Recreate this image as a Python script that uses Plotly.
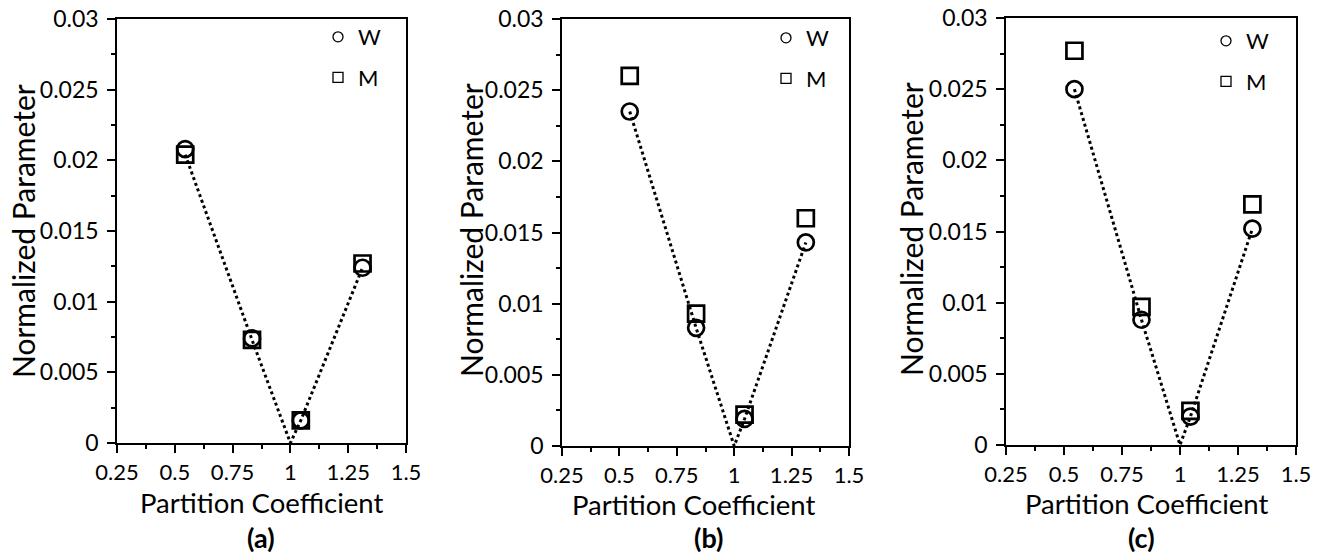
import plotly.graph_objects as go

# ---- data ----
partition = [0.545, 0.834, 1.045, 1.312]
W_a = [0.0208, 0.0074, 0.0016, 0.0124]
M_a = [0.0204, 0.0073, 0.0016, 0.0127]
W_b = [0.0235, 0.0083, 0.0019, 0.0143]
M_b = [0.0260, 0.0093, 0.0022, 0.0160]
W_c = [0.0250, 0.0088, 0.0020, 0.0152]
M_c = [0.0277, 0.0097, 0.0024, 0.0169]
fit_x = [0.545, 0.834, 1.0, 1.045, 1.312]
fit_a = [0.0204, 0.0073, 0.0, 0.0016, 0.0124]
fit_b = [0.0235, 0.0083, 0.0, 0.0019, 0.0143]
fit_c = [0.0250, 0.0088, 0.0, 0.0020, 0.0152]
x_ticks = [0.25, 0.5, 0.75, 1.0, 1.25, 1.5]
x_ticktext = ["0.25", "0.5", "0.75", "1", "1.25", "1.5"]
y_ticks = [0, 0.005, 0.01, 0.015, 0.02, 0.025, 0.03]
y_ticktext = ["0", "0.005", "0.01", "0.015", "0.02", "0.025", "0.03"]
panel_labels = ["(a)", "(b)", "(c)"]
x_title = "Partition Coefficient"
y_title = "Normalized Parameter"

FONT = "Lato"
W_PX, H_PX = 1327, 556
fig = go.Figure()

panels = [(W_a, M_a, fit_a), (W_b, M_b, fit_b), (W_c, M_c, fit_c)]
x_px = [(117, 406), (562, 849), (1006, 1296)]
y_px = [(19, 443), (19, 446), (18, 445)]
legend_px = [(318, 16), (766, 17), (1206, 20)]
label_x_px = [245, 708, 1157]
xtitle_px = [(261, 502), (693, 504), (1146, 503)]
ytitle_px = [(23, 231), (471, 230), (911, 229)]

for i, (W, M, fit) in enumerate(panels):
    xa = "x" if i == 0 else f"x{i+1}"
    ya = "y" if i == 0 else f"y{i+1}"
    lg = "legend" if i == 0 else f"legend{i+1}"
    fig.add_trace(go.Scatter(x=partition, y=M, mode="markers", xaxis=xa, yaxis=ya,
                             marker=dict(symbol="square-open", size=16, color="black",
                                         line=dict(width=2.7, color="black")),
                             showlegend=False, hoverinfo="skip"))
    fig.add_trace(go.Scatter(x=partition, y=W, mode="markers", xaxis=xa, yaxis=ya,
                             marker=dict(symbol="circle-open", size=16, color="black",
                                         line=dict(width=2.7, color="black")),
                             showlegend=False, hoverinfo="skip"))
    fig.add_trace(go.Scatter(x=fit_x, y=fit, mode="lines", xaxis=xa, yaxis=ya,
                             line=dict(color="black", width=3, dash="3px,3px"),
                             showlegend=False, hoverinfo="skip"))
    # legend entries
    fig.add_trace(go.Scatter(x=[None], y=[None], mode="markers", xaxis=xa, yaxis=ya,
                             name="W", legend=lg, legendgroup=f"w{i}",
                             marker=dict(symbol="circle-open", size=10, color="black",
                                         line=dict(width=1.3, color="black"))))
    fig.add_trace(go.Scatter(x=[None], y=[None], mode="markers", xaxis=xa, yaxis=ya,
                             name="M", legend=lg, legendgroup=f"m{i}",
                             marker=dict(symbol="square-open", size=10, color="black",
                                         line=dict(width=1.3, color="black"))))

    axis_common = dict(showline=True, linecolor="black", linewidth=1.5, mirror=True,
                       ticks="outside", ticklen=8, tickwidth=1.5, tickcolor="black",
                       showgrid=False, zeroline=False, automargin=False,
                       ticklabelstandoff=1,
                       tickfont=dict(family=FONT, size=22, color="black"))
    xkey = "xaxis" if i == 0 else f"xaxis{i+1}"
    ykey = "yaxis" if i == 0 else f"yaxis{i+1}"
    fig.update_layout(**{
        xkey: dict(axis_common, domain=[x_px[i][0] / W_PX, x_px[i][1] / W_PX], anchor=ya,
                   range=[0.25, 1.5], tickvals=x_ticks, ticktext=x_ticktext,
                   minor=dict(dtick=0.125, tick0=0.25, ticks="outside", ticklen=4,
                              tickwidth=1.5, tickcolor="black", showgrid=False)),
        ykey: dict(axis_common, domain=[1 - y_px[i][1] / H_PX, 1 - y_px[i][0] / H_PX],
                   anchor=xa, range=[0, 0.03], tickvals=y_ticks, ticktext=y_ticktext,
                   ticklabelstandoff=4, tickfont=dict(family=FONT, size=23, color="black"),
                   minor=dict(dtick=0.0025, tick0=0, ticks="outside", ticklen=4,
                              tickwidth=1.5, tickcolor="black", showgrid=False)),
        lg: dict(x=legend_px[i][0] / W_PX, y=1 - legend_px[i][1] / H_PX,
                 xanchor="left", yanchor="top",
                 bgcolor="rgba(0,0,0,0)", traceorder="grouped", tracegroupgap=9,
                 font=dict(family=FONT, size=22, color="black")),
    })
    fig.add_annotation(x=xtitle_px[i][0] / W_PX, y=1 - xtitle_px[i][1] / H_PX,
                       xref="paper", yref="paper", xanchor="center", yanchor="middle",
                       text=x_title, showarrow=False,
                       font=dict(family=FONT, size=27.5, color="black"))
    fig.add_annotation(x=ytitle_px[i][0] / W_PX, y=1 - ytitle_px[i][1] / H_PX,
                       xref="paper", yref="paper", xanchor="center", yanchor="middle",
                       text=y_title, showarrow=False, textangle=-90,
                       font=dict(family=FONT, size=30, color="black"))
    fig.add_annotation(x=label_x_px[i] / W_PX, y=0,
                       xref="paper", yref="paper", yanchor="bottom",
                       text=f"<b>{panel_labels[i]}</b>", showarrow=False,
                       font=dict(family=FONT, size=27, color="black"))

fig.update_layout(width=W_PX, height=H_PX, margin=dict(l=0, r=0, t=0, b=0),
                  plot_bgcolor="white", paper_bgcolor="white")
fig.write_html("out.html")
